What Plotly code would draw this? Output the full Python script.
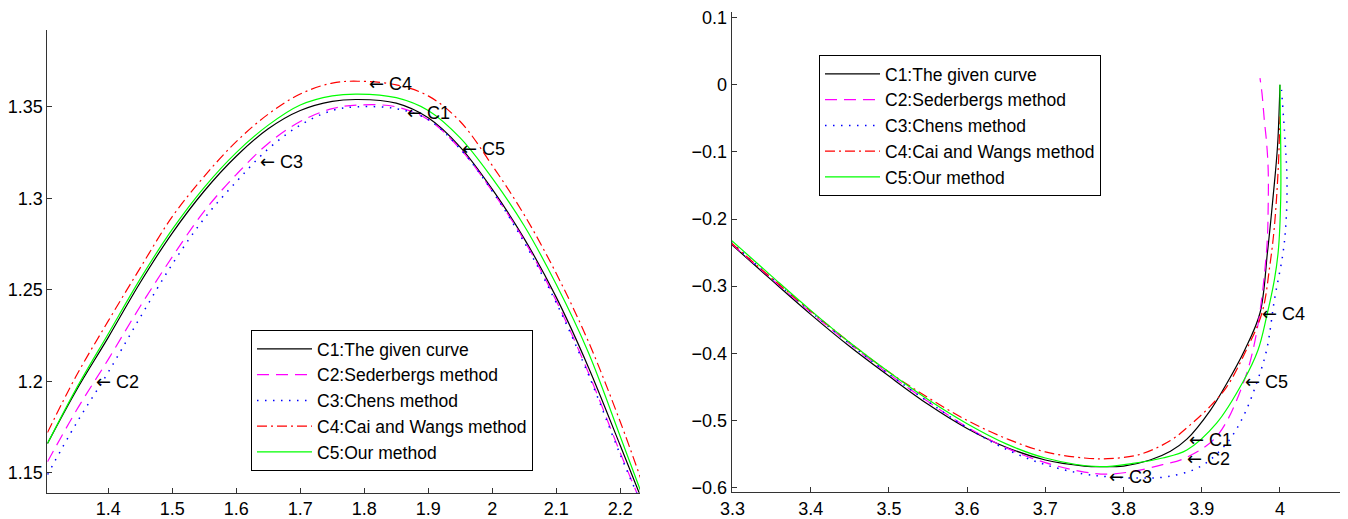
import plotly.graph_objects as go

# ---- left panel: zoom near the top of the curve ----
names = ["C1:The given curve", "C2:Sederbergs method", "C3:Chens method",
         "C4:Cai and Wangs method", "C5:Our method"]

left_x = [1.305, 1.35, 1.40, 1.45, 1.50, 1.55, 1.60, 1.65, 1.70, 1.75, 1.79,
          1.85, 1.90, 1.95, 2.00, 2.05, 2.10, 2.15, 2.20, 2.232]
left_c1 = [1.166, 1.195, 1.224, 1.254, 1.281, 1.304, 1.323, 1.338, 1.348, 1.353, 1.354,
           1.352, 1.344, 1.328, 1.305, 1.278, 1.246, 1.208, 1.165, 1.137]
left_c2 = [1.156, 1.184, 1.212, 1.241, 1.268, 1.293, 1.313, 1.330, 1.342, 1.349, 1.351,
           1.350, 1.343, 1.327, 1.304, 1.277, 1.244, 1.205, 1.161, 1.134]
left_c3 = [1.149, 1.177, 1.205, 1.235, 1.264, 1.289, 1.309, 1.327, 1.340, 1.348, 1.350,
           1.349, 1.343, 1.327, 1.304, 1.276, 1.243, 1.204, 1.160, 1.134]
left_c4 = [1.172, 1.203, 1.233, 1.262, 1.290, 1.312, 1.331, 1.346, 1.357, 1.363, 1.364,
           1.362, 1.356, 1.342, 1.318, 1.291, 1.259, 1.222, 1.178, 1.147]
left_c5 = [1.166, 1.196, 1.226, 1.256, 1.283, 1.306, 1.325, 1.340, 1.351, 1.356, 1.357,
           1.355, 1.348, 1.333, 1.311, 1.285, 1.253, 1.216, 1.170, 1.140]

left_xticks = [1.4, 1.5, 1.6, 1.7, 1.8, 1.9, 2.0, 2.1, 2.2]
left_xtext = ["1.4", "1.5", "1.6", "1.7", "1.8", "1.9", "2", "2.1", "2.2"]
left_yticks = [1.15, 1.2, 1.25, 1.3, 1.35]
left_ytext = ["1.15", "1.2", "1.25", "1.3", "1.35"]

left_labels = ["C1", "C2", "C3", "C4", "C5"]
left_lab_x = [1.864, 1.377, 1.634, 1.804, 1.950]
left_lab_y = [1.347, 1.200, 1.320, 1.363, 1.327]

# ---- right panel: zoom near the bottom end ----
r1_x = [3.298, 3.35, 3.40, 3.45, 3.50, 3.55, 3.60, 3.65, 3.70, 3.75, 3.77, 3.80, 3.834,
        3.86, 3.881, 3.911, 3.932, 3.955, 3.9745, 3.984, 3.991, 3.997, 4.0]
r1_y = [-0.237, -0.291, -0.342, -0.390, -0.434, -0.476, -0.512, -0.540, -0.559, -0.568,
        -0.569, -0.568, -0.559, -0.546, -0.528, -0.485, -0.445, -0.395, -0.340, -0.250,
        -0.170, -0.090, 0.0]
r2_x = [3.298, 3.35, 3.40, 3.45, 3.50, 3.55, 3.60, 3.65, 3.70, 3.75, 3.78, 3.812, 3.85,
        3.879, 3.919, 3.953, 3.970, 3.983, 3.985, 3.985, 3.983, 3.980, 3.977, 3.9745]
r2_y = [-0.236, -0.289, -0.339, -0.386, -0.431, -0.472, -0.510, -0.541, -0.563, -0.577,
        -0.580, -0.576, -0.566, -0.556, -0.524, -0.445, -0.370, -0.246, -0.180, -0.127,
        -0.087, -0.052, -0.012, 0.010]
r3_x = [3.298, 3.35, 3.40, 3.45, 3.50, 3.55, 3.60, 3.65, 3.70, 3.75, 3.78, 3.82, 3.855,
        3.898, 3.932, 3.953, 3.970, 3.983, 3.993, 4.004, 4.008, 4.009, 4.0065, 4.002]
r3_y = [-0.234, -0.288, -0.338, -0.386, -0.431, -0.472, -0.511, -0.543, -0.566, -0.580,
        -0.584, -0.586, -0.584, -0.569, -0.534, -0.4945, -0.445, -0.395, -0.320, -0.250,
        -0.200, -0.140, -0.082, -0.0075]
r4_x = [3.298, 3.35, 3.40, 3.45, 3.50, 3.55, 3.60, 3.65, 3.70, 3.75, 3.78, 3.82, 3.86,
        3.885, 3.91, 3.932, 3.955, 3.977, 3.987, 3.993, 3.998, 4.0]
r4_y = [-0.235, -0.288, -0.337, -0.384, -0.428, -0.466, -0.500, -0.527, -0.547, -0.556,
        -0.557, -0.551, -0.530, -0.507, -0.480, -0.450, -0.400, -0.340, -0.270, -0.210,
        -0.120, -0.047]
r5_x = [3.298, 3.35, 3.40, 3.45, 3.50, 3.55, 3.60, 3.65, 3.70, 3.77, 3.812, 3.85, 3.881,
        3.919, 3.953, 3.972, 3.983, 3.993, 3.998, 4.001, 4.001, 4.0]
r5_y = [-0.231, -0.285, -0.336, -0.384, -0.428, -0.469, -0.505, -0.535, -0.556, -0.569,
        -0.564, -0.556, -0.544, -0.504, -0.442, -0.395, -0.345, -0.290, -0.246, -0.170,
        -0.090, 0.0]

right_xticks = [3.3, 3.4, 3.5, 3.6, 3.7, 3.8, 3.9, 4.0]
right_xtext = ["3.3", "3.4", "3.5", "3.6", "3.7", "3.8", "3.9", "4"]
right_yticks = [0.1, 0.0, -0.1, -0.2, -0.3, -0.4, -0.5, -0.6]
right_ytext = ["0.1", "0", "\u22120.1", "\u22120.2", "\u22120.3", "\u22120.4",
               "\u22120.5", "\u22120.6"]

right_labels = ["C1", "C2", "C3", "C4", "C5"]
right_lab_x = [3.881, 3.879, 3.7785, 3.9745, 3.953]
right_lab_y = [-0.528, -0.5565, -0.584, -0.340, -0.442]

colors = ["#000000", "#ff00ff", "#0000ff", "#ff0000", "#00ff00"]
dashes = ["solid", "12px,7px", "1.5px,6.5px", "10px,4px,2px,4px", "solid"]
widths = [1.2, 1.2, 1.5, 1.2, 1.2]
FONT = "Liberation Sans, Arial, sans-serif"
ARROW = '<span style="font-family:DejaVu Sans">\u2190</span> '

# the page body has an 8px margin, so the figure is laid out 8px in from the corner
OFF = 8
W, H = 1348 - OFF, 519 - OFF


def px_x(p):
    return (p - OFF) / W


def px_y(p):
    return (519 - p) / H


fig = go.Figure()

left_series = [left_c1, left_c2, left_c3, left_c4, left_c5]
for i, ys in enumerate(left_series):
    fig.add_trace(go.Scatter(
        x=left_x, y=ys, mode='lines', name=names[i],
        line=dict(color=colors[i], width=widths[i], dash=dashes[i], shape='spline'),
        xaxis='x', yaxis='y', legend='legend'
    ))

right_series = [(r1_x, r1_y), (r2_x, r2_y), (r3_x, r3_y), (r4_x, r4_y), (r5_x, r5_y)]
for i, (xs, ys) in enumerate(right_series):
    fig.add_trace(go.Scatter(
        x=xs, y=ys, mode='lines', name=names[i],
        line=dict(color=colors[i], width=widths[i], dash=dashes[i], shape='spline'),
        xaxis='x2', yaxis='y2', legend='legend2'
    ))

annotations = []
for lab, ax_, ay_ in zip(left_labels, left_lab_x, left_lab_y):
    annotations.append(dict(x=ax_, y=ay_, xref='x', yref='y', text=ARROW + lab,
                            showarrow=False, xanchor='left', yanchor='middle',
                            font=dict(size=18, color='black', family=FONT)))
for lab, ax_, ay_ in zip(right_labels, right_lab_x, right_lab_y):
    annotations.append(dict(x=ax_, y=ay_, xref='x2', yref='y2', text=ARROW + lab,
                            showarrow=False, xanchor='left', yanchor='middle',
                            font=dict(size=18, color='black', family=FONT)))

axis_style = dict(showgrid=False, zeroline=False, showline=True, linecolor='#333333',
                  linewidth=1, ticks='inside', ticklen=5, tickcolor='#333333',
                  tickfont=dict(size=18, color='black', family=FONT), mirror=False,
                  automargin=False)

legend_style = dict(bgcolor='white', bordercolor='black', borderwidth=1,
                    font=dict(size=17.5, color='black', family=FONT),
                    itemwidth=55, tracegroupgap=0, xanchor='left', yanchor='top')

fig.update_layout(
    width=W, height=H,
    margin=dict(l=0, r=0, t=0, b=0),
    plot_bgcolor='white', paper_bgcolor='white',
    xaxis=dict(domain=[px_x(47.3), px_x(640)], range=[1.3047, 2.231],
               tickvals=left_xticks, ticktext=left_xtext, anchor='y', **axis_style),
    yaxis=dict(domain=[px_y(492.7), px_y(30)], range=[1.1391, 1.392],
               tickvals=left_yticks, ticktext=left_ytext, anchor='x', **axis_style),
    xaxis2=dict(domain=[px_x(731.7), px_x(1340.7)], range=[3.299, 4.0777],
                tickvals=right_xticks, ticktext=right_xtext, anchor='y2', **axis_style),
    yaxis2=dict(domain=[px_y(492), px_y(11.7)], range=[-0.6067, 0.109],
                tickvals=right_yticks, ticktext=right_ytext, anchor='x2', **axis_style),
    legend=dict(x=px_x(251), y=px_y(330), **legend_style),
    legend2=dict(x=px_x(819), y=px_y(55), **legend_style),
    annotations=annotations,
    showlegend=True,
)

fig.write_html("out.html")
